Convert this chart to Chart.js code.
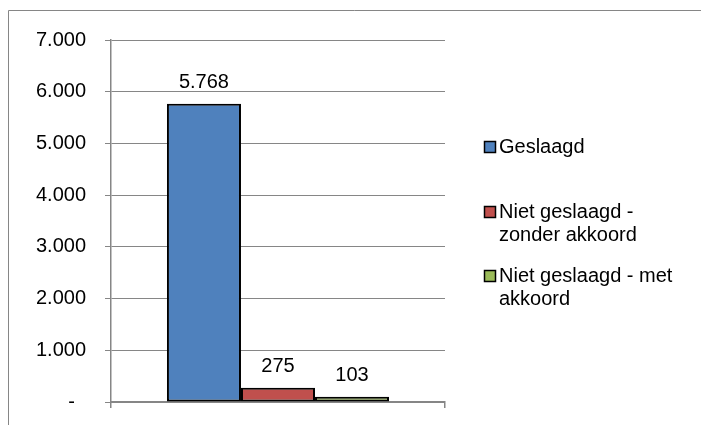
<!DOCTYPE html>
<html>
<head>
<meta charset="utf-8">
<script src="https://cdn.jsdelivr.net/npm/chart.js@4/dist/chart.umd.min.js"></script>
<style>
  html, body { margin: 0; padding: 0; background: #fff; }
  #chart { display: block; }
</style>
</head>
<body>
<canvas id="chart" width="701" height="425"></canvas>
<script>
// data
const categories = [""];
const seriesNames = ["Geslaagd", "Niet geslaagd - zonder akkoord", "Niet geslaagd - met akkoord"];
const seriesValues = [5768, 275, 103];
// legend text as Excel wrapped it
const legendLines = [["Geslaagd"], ["Niet geslaagd -", "zonder akkoord"], ["Niet geslaagd - met", "akkoord"]];
const yTicks = [0, 1000, 2000, 3000, 4000, 5000, 6000, 7000];

const colors = ["#4F81BD", "#C0504D", "#9BBB59"];
const gridColor = "#868686";
const font = "'Liberation Sans', Arial, sans-serif";

// Dutch thousands separator, zero shown as a dash
function fmt(v) {
    if (v === 0) return "-  ";
    return String(v).replace(/\B(?=(\d{3})+(?!\d))/g, ".");
}

const framePlugin = {
    id: "frame",
    beforeDraw(chart) {
        const ctx = chart.ctx;
        ctx.save();
        ctx.strokeStyle = gridColor;
        ctx.lineWidth = 1;
        ctx.beginPath();
        ctx.moveTo(8.5, 425);
        ctx.lineTo(8.5, 10.5);
        ctx.lineTo(701, 10.5);
        ctx.stroke();
        ctx.restore();
    },
};

const valueLabels = {
    id: "valueLabels",
    afterDatasetsDraw(chart) {
        const ctx = chart.ctx;
        ctx.save();
        ctx.font = "20px " + font;
        ctx.fillStyle = "#000";
        ctx.textAlign = "center";
        ctx.textBaseline = "alphabetic";
        chart.data.datasets.forEach((ds, i) => {
            const bar = chart.getDatasetMeta(i).data[0];
            ctx.fillText(fmt(ds.data[0]), bar.x, bar.y - 16);
        });
        ctx.restore();
    },
};

// Excel style legend on the right, with wrapped lines
const sideLegend = {
    id: "sideLegend",
    afterDraw(chart) {
        const ctx = chart.ctx;
        const tops = [141, 206, 270];
        ctx.save();
        ctx.font = "20px " + font;
        ctx.textAlign = "left";
        ctx.textBaseline = "alphabetic";
        chart.data.datasets.forEach((ds, i) => {
            const y = tops[i];
            ctx.fillStyle = ds.backgroundColor;
            ctx.fillRect(484.5, y + 0.5, 11, 11);
            ctx.strokeStyle = "#000";
            ctx.lineWidth = 1.5;
            ctx.strokeRect(484.5, y + 0.5, 11, 11);
            ctx.fillStyle = "#000";
            legendLines[i].forEach((line, j) => {
                ctx.fillText(line, 499, y + 12 + j * 22.5);
            });
        });
        ctx.restore();
    },
};

const barConfig = {
    type: "bar",
    data: {
        labels: categories,
        datasets: seriesNames.map((name, i) => ({
            label: name,
            data: [seriesValues[i]],
            backgroundColor: colors[i],
            borderColor: "#000",
            borderWidth: 2,
            borderSkipped: false,
            categoryPercentage: 0.665,
            barPercentage: 1,
        })),
    },
    options: {
        responsive: false,
        animation: false,
        layout: {
            padding: { left: 20, right: 256, top: 40, bottom: 13 },
        },
        plugins: {
            legend: { display: false },
            tooltip: { enabled: false },
        },
        scales: {
            x: {
                ticks: { display: false },
                grid: { drawOnChartArea: false, drawTicks: true, tickLength: 6, color: gridColor, lineWidth: 1.5 },
                border: { display: true, color: gridColor, width: 2 },
                afterFit(scale) {
                    scale.height = 10;
                    scale.paddingLeft = 0;
                    scale.paddingRight = 0;
                },
            },
            y: {
                min: 0,
                max: 7000,
                afterBuildTicks(scale) { scale.ticks = yTicks.map(v => ({ value: v })); },
                ticks: {
                    color: "#000",
                    font: { family: font, size: 20 },
                    padding: 19,
                    callback: v => fmt(v),
                },
                grid: { color: gridColor, tickLength: 6 },
                border: { display: true, color: gridColor, width: 1.5 },
                afterFit(scale) {
                    scale.width = 91;
                    scale.paddingTop = 0;
                    scale.paddingBottom = 0;
                },
            },
        },
    },
    plugins: [framePlugin, valueLabels, sideLegend],
};

const barCtx = document.getElementById("chart");
window.myBar = new Chart(barCtx, barConfig);
</script>
</body>
</html>
